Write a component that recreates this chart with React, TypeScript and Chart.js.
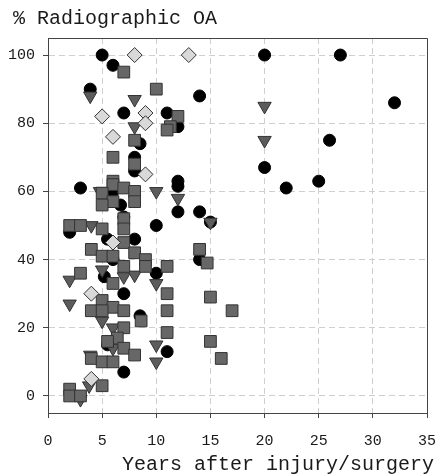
import React, { useEffect, useRef } from "react";
import { Chart, registerables } from "chart.js";
Chart.register(...registerables);

const FONT = "'Liberation Mono', 'DejaVu Sans Mono', monospace";

const yTitle = "% Radiographic OA";
const xTitle = "Years after injury/surgery";

const xTicks = [0, 5, 10, 15, 20, 25, 30, 35];
const yTicks = [0, 20, 40, 60, 80, 100];

const blackCircles: [number, number][] = [
  [5, 100], [6, 97], [3.9, 90], [14, 88], [7, 83], [11, 83], [12, 79], [8.5, 74],
  [8, 70], [8, 66], [3, 61], [12, 63], [12, 61.5], [6, 60], [6.7, 56], [12, 54],
  [14, 54], [15, 51], [7, 52.5], [10, 50], [2, 48], [5.5, 46], [8, 46], [6, 40],
  [5.2, 35], [10, 36], [7, 30], [8.5, 23.5], [5.5, 15], [11, 13], [7, 7], [14, 40],
  [20, 100], [27, 100], [32, 86], [26, 75], [20, 67], [25, 63], [22, 61],
];

const grayTriangles: [number, number][] = [
  [3.9, 88], [8, 87], [8, 79], [4.8, 60], [10, 60], [12, 58], [15, 51], [4, 50],
  [5, 37], [7, 35], [8, 35.5], [2, 34], [10, 33], [2, 27], [5, 22], [6, 20],
  [10, 15], [6, 14], [3.9, 12], [10, 10], [3.8, 3], [3, -1], [20, 85], [20, 75],
];

const graySquares: [number, number][] = [
  [7, 95], [10, 90], [12, 82], [11.3, 79], [11, 78], [8, 75], [6, 70], [8, 68],
  [6, 63], [6, 62], [7, 61], [8, 60], [5, 59.5], [6, 57], [8, 57], [5, 56],
  [7, 52], [7, 49], [2, 50], [3, 50], [5, 49], [7, 45], [4, 43], [8, 42],
  [5, 41], [6, 41], [9, 40], [7, 38], [9, 38], [11, 38], [3, 36], [6, 33],
  [11, 30], [5, 28], [6, 26], [4, 25], [5, 25], [7, 25], [11, 25], [8.6, 22],
  [7, 20], [11, 18.6], [6.4, 17], [5.5, 16], [7, 14], [8, 12], [4, 11], [5, 10],
  [6, 10], [5, 3], [2, 2], [2, 0], [3, 0], [14, 43], [14.7, 39], [15, 29],
  [17, 25], [15, 16], [16, 11],
];

const lightDiamonds: [number, number][] = [
  [8, 100], [13, 100], [5, 82], [9, 83], [9, 80], [6, 76], [9, 65], [6, 45],
  [4, 30], [4, 5],
];

const toPts = (a: [number, number][]) => a.map(([x, y]) => ({ x, y }));

const framePlugin = {
  id: "frameAndTitles",
  beforeDatasetsDraw(chart: any) {
    const { ctx, chartArea } = chart;
    const { left, right, top, bottom } = chartArea;
    ctx.save();
    ctx.strokeStyle = "#444";
    ctx.lineWidth = 1;
    ctx.setLineDash([]);
    ctx.beginPath();
    ctx.moveTo(left, Math.round(top) + 0.5);
    ctx.lineTo(Math.round(right) + 0.5, Math.round(top) + 0.5);
    ctx.lineTo(Math.round(right) + 0.5, bottom);
    ctx.stroke();
    ctx.restore();
  },
  afterDraw(chart: any) {
    const { ctx } = chart;
    ctx.save();
    ctx.fillStyle = "#1a1a1a";
    ctx.font = `20px ${FONT}`;
    ctx.textBaseline = "alphabetic";
    ctx.textAlign = "left";
    ctx.fillText(yTitle, 13, 24);
    ctx.textAlign = "right";
    ctx.fillText(xTitle, 434, 470);
    ctx.restore();
  },
};

export default function App() {
  const ref = useRef<HTMLCanvasElement>(null);
  useEffect(() => {
    document.body.style.margin = "0";
    const chart = new Chart(ref.current as HTMLCanvasElement, {
      type: "scatter",
      data: {
        datasets: [
          {
            label: "diamonds",
            data: toPts(lightDiamonds),
            pointStyle: "rectRot",
            pointRadius: 7.5,
            pointBackgroundColor: "#d9d9d9",
            pointBorderColor: "#333",
            pointBorderWidth: 1,
          },
          {
            label: "squares",
            data: toPts(graySquares),
            pointStyle: "rect",
            pointRadius: 8.3,
            pointBackgroundColor: "#676767",
            pointBorderColor: "#333",
            pointBorderWidth: 1,
          },
          {
            label: "triangles",
            data: toPts(grayTriangles),
            pointStyle: "triangle",
            pointRotation: 180,
            pointRadius: 7.7,
            pointBackgroundColor: "#5c5c5c",
            pointBorderColor: "#333",
            pointBorderWidth: 1,
          },
          {
            label: "circles",
            data: toPts(blackCircles),
            pointStyle: "circle",
            pointRadius: 6,
            pointBackgroundColor: "#000",
            pointBorderColor: "#000",
            pointBorderWidth: 1,
          },
        ] as any,
      },
      options: {
        animation: false,
        responsive: false,
        devicePixelRatio: 1,
        events: [],
        layout: { padding: { top: 38, right: 13, left: 0, bottom: 0 } },
        plugins: { legend: { display: false }, tooltip: { enabled: false }, title: { display: false } },
        scales: {
          x: {
            type: "linear",
            min: 0,
            max: 35,
            afterBuildTicks: (s: any) => {
              s.ticks = xTicks.map((v) => ({ value: v }));
            },
            afterFit: (s: any) => {
              s.height = 61;
              s.paddingRight = 0;
              s.paddingLeft = 0;
            },
            grid: { color: "#cfcfcf", tickLength: 5, tickColor: "#444" },
            border: { display: true, color: "#444", width: 1, dash: [6, 4] },
            ticks: {
              font: { family: FONT, size: 15 },
              color: "#1a1a1a",
              padding: 14,
              maxRotation: 0,
              autoSkip: false,
            },
          },
          y: {
            type: "linear",
            min: -5,
            max: 105,
            afterBuildTicks: (s: any) => {
              s.ticks = yTicks.map((v) => ({ value: v }));
            },
            afterFit: (s: any) => {
              s.width = 48;
              s.paddingTop = 0;
              s.paddingBottom = 0;
            },
            grid: { color: "#cfcfcf", tickLength: 5, tickColor: "#444" },
            border: { display: true, color: "#444", width: 1, dash: [6, 4] },
            ticks: {
              font: { family: FONT, size: 15 },
              color: "#1a1a1a",
              padding: 8,
              autoSkip: false,
            },
          },
        },
      } as any,
      plugins: [framePlugin],
    });
    return () => chart.destroy();
  }, []);
  return (
    <div style={{ width: 440, height: 474, background: "#fff" }}>
      <canvas ref={ref} width={440} height={474} style={{ display: "block" }} />
    </div>
  );
}
